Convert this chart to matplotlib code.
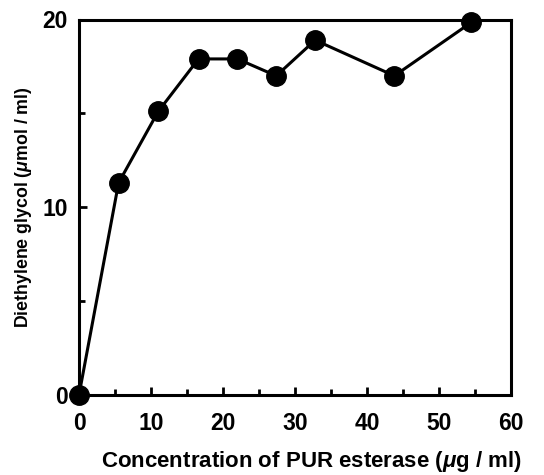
import matplotlib
matplotlib.use("Agg")
import matplotlib.pyplot as plt
from matplotlib.ticker import MultipleLocator

# enzyme concentration (ug/ml) vs diethylene glycol released (umol/ml)
concentration = [0, 5.5, 11, 16.6, 22, 27.4, 32.8, 43.8, 54.5]
glycol = [0, 11.3, 15.1, 17.9, 17.9, 17.0, 18.9, 17.0, 19.85]

plt.rcParams['font.family'] = ['Liberation Sans', 'DejaVu Sans']
plt.rcParams['font.weight'] = 'bold'
plt.rcParams['mathtext.fontset'] = 'custom'
plt.rcParams['mathtext.it'] = 'Liberation Sans:italic:bold'

fig = plt.figure(figsize=(5.44, 4.75), dpi=100)
ax = fig.add_axes([79 / 544, 80 / 475, 432 / 544, 375.5 / 475])

ax.plot(concentration, glycol, '-o', color='black', lw=2.2, ms=14, clip_on=False, zorder=3)

ax.set_xlim(0, 60)
ax.set_ylim(0, 20)
ax.xaxis.set_major_locator(MultipleLocator(10))
ax.xaxis.set_minor_locator(MultipleLocator(5))
ax.yaxis.set_major_locator(MultipleLocator(10))
ax.yaxis.set_minor_locator(MultipleLocator(5))
ax.tick_params(which='both', direction='in', top=False, right=False, width=2)
ax.tick_params(which='major', length=6, labelsize=16.5)
ax.tick_params(which='minor', length=4)
ax.tick_params(axis='x', which='major', pad=12)
ax.tick_params(axis='y', which='major', pad=8)
for s in ax.spines.values():
    s.set_linewidth(2.2)

ax.set_xlabel(r'Concentration of PUR esterase ($\mu$g / ml)', fontsize=16, fontweight='bold')
ax.set_ylabel(r'Diethylene glycol ($\mu$mol / ml)', fontsize=12.8, fontweight='bold')
ax.xaxis.set_label_coords((312 - 79) / 432, (395 - 449) / 375.5)
ax.yaxis.set_label_coords((34 - 79) / 432, 0.5)

fig.savefig('out.png', dpi=100)
